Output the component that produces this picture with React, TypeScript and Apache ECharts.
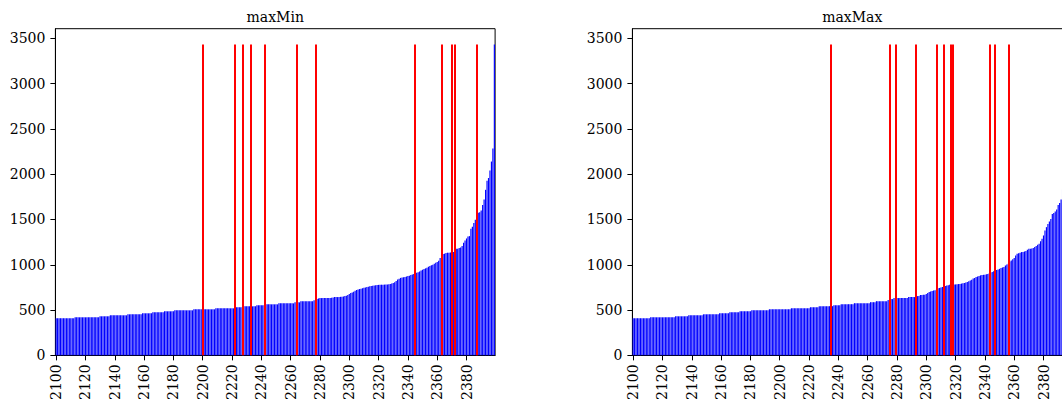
import React, { useEffect, useRef } from "react";
import * as echarts from "echarts";

// ---- data -------------------------------------------------------------
const firstYear = 2100;
const barCount = 300;
const years: string[] = Array.from({ length: barCount }, (_, i) => String(firstYear + i));

const xTickLabels = ["2100", "2120", "2140", "2160", "2180", "2200", "2220", "2240", "2260", "2280", "2300", "2320", "2340", "2360", "2380"];
const yTicks = [0, 500, 1000, 1500, 2000, 2500, 3000, 3500];

// maxMin panel (sorted values, 2100..2399)
const maxMinValues = [
  410, 410, 410, 410, 410, 410, 410, 410, 410, 410, 410, 410, 410, 420, 420, 420, 420, 420, 420, 420,
  420, 420, 420, 420, 420, 420, 420, 420, 420, 420, 431, 431, 431, 431, 431, 431, 431, 442, 442, 442,
  442, 442, 442, 442, 442, 442, 442, 442, 442, 453, 453, 453, 453, 453, 453, 453, 453, 453, 453, 464,
  464, 464, 464, 464, 464, 464, 475, 475, 475, 475, 475, 475, 475, 475, 486, 486, 486, 486, 486, 486,
  486, 497, 497, 497, 497, 497, 497, 497, 497, 497, 497, 497, 497, 497, 508, 508, 508, 508, 508, 508,
  508, 508, 508, 508, 508, 508, 508, 508, 508, 519, 519, 519, 519, 519, 519, 519, 519, 519, 519, 519,
  519, 519, 530, 530, 530, 530, 530, 530, 541, 541, 541, 541, 541, 541, 541, 541, 541, 552, 552, 552,
  552, 552, 552, 563, 563, 563, 563, 563, 563, 563, 563, 563, 574, 574, 574, 574, 574, 574, 574, 574,
  574, 574, 574, 585, 585, 585, 585, 596, 596, 596, 596, 596, 596, 596, 596, 596, 609, 615, 621, 628,
  632, 632, 632, 632, 632, 632, 632, 632, 636, 640, 643, 643, 643, 643, 646, 648, 650, 654, 658, 665,
  676, 688, 695, 702, 712, 721, 726, 732, 736, 741, 747, 750, 754, 758, 762, 765, 769, 772, 775, 777,
  778, 779, 780, 780, 781, 782, 783, 785, 788, 792, 800, 806, 820, 836, 845, 855, 858, 862, 866, 870,
  875, 880, 888, 893, 899, 905, 911, 918, 925, 937, 945, 952, 960, 968, 977, 986, 995, 1001, 1012, 1022,
  1030, 1045, 1074, 1100, 1118, 1122, 1129, 1133, 1133, 1136, 1140, 1140, 1160, 1177, 1177, 1185, 1191, 1206, 1243, 1268,
  1290, 1312, 1316, 1397, 1419, 1460, 1496, 1507, 1573, 1580, 1598, 1660, 1719, 1827, 1927, 1957, 2039, 2139, 2284, 3431,
];
const maxMinMarks = [2200, 2222, 2227, 2233, 2242, 2264, 2277, 2345, 2363, 2370, 2372, 2387];

// maxMax panel
const maxMaxValues = [
  410, 410, 410, 410, 410, 410, 410, 410, 410, 410, 410, 410, 420, 420, 420, 420, 420, 420, 420, 420,
  420, 420, 420, 420, 420, 420, 420, 420, 420, 431, 431, 431, 431, 431, 431, 431, 431, 431, 442, 442,
  442, 442, 442, 442, 442, 442, 442, 442, 453, 453, 453, 453, 453, 453, 453, 453, 453, 453, 453, 465,
  465, 465, 465, 465, 465, 465, 476, 476, 476, 476, 476, 476, 476, 487, 487, 487, 487, 487, 487, 487,
  487, 498, 498, 498, 498, 498, 498, 498, 498, 498, 498, 498, 498, 509, 509, 509, 509, 509, 509, 509,
  509, 509, 509, 509, 509, 509, 509, 509, 520, 520, 520, 520, 520, 520, 520, 520, 520, 520, 520, 520,
  520, 531, 531, 531, 531, 531, 531, 543, 543, 543, 543, 543, 543, 543, 543, 543, 543, 554, 554, 554,
  554, 554, 565, 565, 565, 565, 565, 565, 565, 565, 565, 576, 576, 576, 576, 576, 576, 576, 576, 576,
  576, 576, 587, 587, 587, 587, 598, 598, 598, 598, 598, 598, 598, 598, 610, 610, 621, 621, 632, 632,
  632, 632, 632, 632, 632, 632, 632, 632, 643, 643, 643, 643, 643, 643, 654, 654, 665, 665, 670, 670,
  676, 688, 699, 705, 710, 715, 718, 730, 740, 744, 748, 755, 760, 766, 770, 775, 778, 781, 781, 781,
  783, 785, 787, 789, 792, 795, 800, 805, 810, 818, 825, 835, 847, 855, 865, 870, 875, 883, 886, 889,
  891, 895, 898, 905, 912, 920, 927, 938, 943, 949, 955, 964, 970, 975, 993, 1003, 1012, 1037, 1048, 1060,
  1074, 1103, 1122, 1128, 1133, 1140, 1140, 1145, 1151, 1165, 1177, 1177, 1180, 1184, 1195, 1206, 1220, 1232, 1260, 1287,
  1323, 1378, 1415, 1450, 1477, 1506, 1561, 1572, 1587, 1609, 1660, 1682, 1720, 1830, 1930, 2040, 2140, 2280, 2500, 3431,
];
const maxMaxMarks = [2235, 2275, 2279, 2293, 2307, 2312, 2317, 2318, 2343, 2347, 2356];

const yMax = 3605;
const FONT = "DejaVu Serif";

const panels = [
  { title: "maxMin", values: maxMinValues, marks: maxMinMarks, left: 55.4 },
  { title: "maxMax", values: maxMaxValues, marks: maxMaxMarks, left: 632.4 },
];

export default function App() {
  const ref = useRef<HTMLDivElement>(null);
  useEffect(() => {
    if (!ref.current) return;
    const chart = echarts.init(ref.current, null, { renderer: "svg" });
    const gridW = 439.7;
    const gridTop = 28.7;
    const gridH = 357 - 28.7;
    const isTick = (_i: number, v: string) => xTickLabels.indexOf(v) >= 0;

    const option: any = {
      animation: false,
      backgroundColor: "#ffffff",
      grid: panels.map((p) => ({
        left: p.left,
        top: gridTop,
        width: gridW,
        height: gridH,
        show: true,
        borderColor: "#000",
        borderWidth: 1,
        backgroundColor: "transparent",
        containLabel: false,
      })),
      xAxis: panels.map((_p, k) => ({
        type: "category",
        gridIndex: k,
        data: years,
        boundaryGap: true,
        axisLine: { show: true, lineStyle: { color: "#000", width: 1 } },
        axisTick: { show: true, interval: isTick, alignWithLabel: true, length: 5, lineStyle: { color: "#000", width: 1 } },
        axisLabel: { interval: isTick, rotate: 90, margin: 9, fontFamily: FONT, fontSize: 14, color: "#000" },
        splitLine: { show: false },
      })),
      yAxis: panels.map((_p, k) => ({
        type: "value",
        gridIndex: k,
        min: 0,
        max: yMax,
        interval: 500,
        axisLine: { show: true, lineStyle: { color: "#000", width: 1 } },
        axisTick: { show: true, length: 5, customValues: yTicks, lineStyle: { color: "#000", width: 1 } },
        axisLabel: {
          customValues: yTicks,
          margin: 10,
          fontFamily: FONT,
          fontSize: 14,
          color: "#000",
          formatter: (v: number) => (yTicks.indexOf(v) >= 0 ? String(v) : ""),
        },
        splitLine: { show: false },
      })),
      series: panels.map((p, k) => {
        const top = Math.max(...p.values);
        return {
          type: "bar",
          xAxisIndex: k,
          yAxisIndex: k,
          data: p.values,
          barWidth: "80%",
          itemStyle: { color: "#0000ff" },
          silent: true,
          markLine: {
            silent: true,
            symbol: ["none", "none"],
            label: { show: false },
            lineStyle: { color: "#ff0000", width: 2, type: "solid" },
            data: p.marks.map((yr) => {
              const idx = years.indexOf(String(yr));
              return [{ coord: [idx, 0] }, { coord: [idx, top] }];
            }),
          },
        };
      }),
      graphic: panels.map((p) => ({
        type: "text",
        x: p.left + gridW / 2,
        y: 17.2,
        style: {
          text: p.title,
          fontFamily: FONT,
          fontSize: 14,
          fill: "#000",
          textAlign: "center",
          verticalAlign: "middle",
        },
      })),
    };
    chart.setOption(option);
    return () => chart.dispose();
  }, []);
  return (
    <div style={{ position: "fixed", left: 0, top: 0, width: 1062, height: 403, overflow: "hidden", background: "#fff" }}>
      <div ref={ref} style={{ width: 1090, height: 403 }} />
    </div>
  );
}
